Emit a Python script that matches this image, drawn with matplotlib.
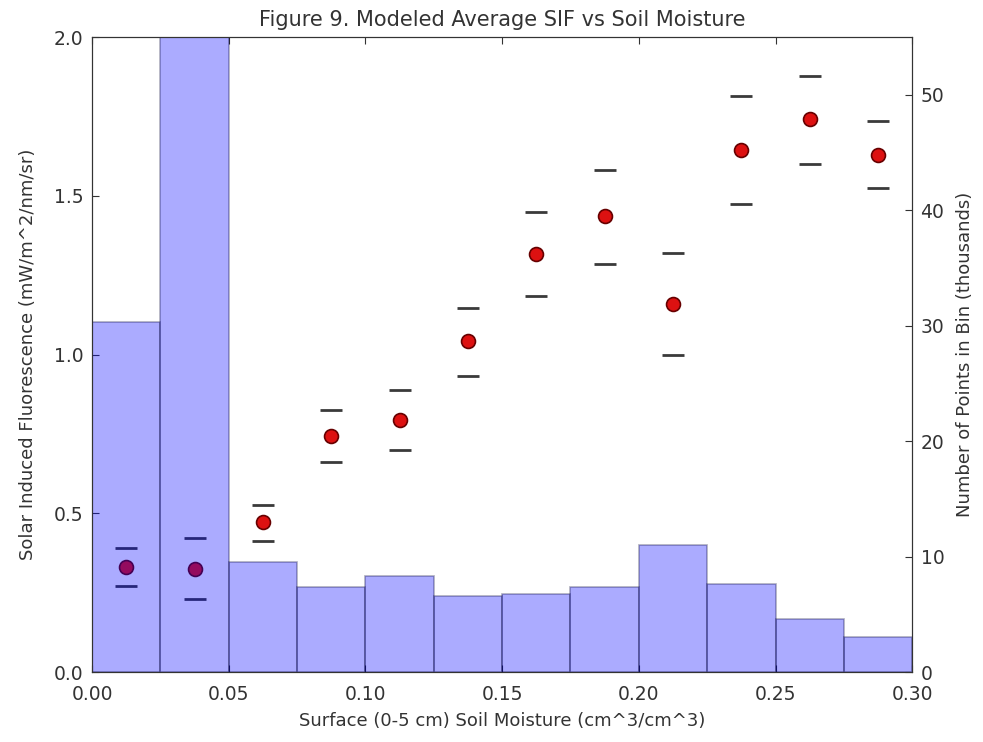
import numpy as np
import matplotlib
matplotlib.use('Agg')
import matplotlib.pyplot as plt

# soil moisture bins (left edges), width 0.025
bin_left = [0.000, 0.025, 0.050, 0.075, 0.100, 0.125, 0.150, 0.175, 0.200, 0.225, 0.250, 0.275]
bin_width = 0.025
# number of points per bin (thousands)
counts = [30.3, 62.0, 9.5, 7.4, 8.3, 6.6, 6.8, 7.4, 11.0, 7.6, 4.6, 3.0]

# mean SIF and upper/lower bounds
sif_mean = [0.331, 0.326, 0.472, 0.743, 0.794, 1.043, 1.317, 1.436, 1.159, 1.644, 1.742, 1.628]
sif_upper = [0.390, 0.422, 0.526, 0.825, 0.888, 1.146, 1.449, 1.581, 1.320, 1.814, 1.877, 1.735]
sif_lower = [0.271, 0.230, 0.413, 0.661, 0.699, 0.932, 1.184, 1.285, 0.998, 1.474, 1.600, 1.524]

bin_center = np.array(bin_left) + bin_width / 2

plt.rcParams['font.size'] = 13.5
plt.rcParams['xtick.direction'] = 'in'
plt.rcParams['ytick.direction'] = 'in'
plt.rcParams['xtick.top'] = True
plt.rcParams['xtick.major.size'] = 5
plt.rcParams['ytick.major.size'] = 5
plt.rcParams['xtick.major.pad'] = 9
plt.rcParams['ytick.major.pad'] = 6
plt.rcParams['text.color'] = '#333333'
plt.rcParams['axes.labelcolor'] = '#333333'
plt.rcParams['xtick.color'] = '#333333'
plt.rcParams['ytick.color'] = '#333333'
plt.rcParams['axes.edgecolor'] = '#333333'

fig = plt.figure(figsize=(9.83, 7.42), dpi=100)
ax1 = fig.add_axes([0.0936, 0.0943, 0.8344, 0.8557])

ax1.plot(bin_center, sif_mean, 'o', color='#dd1111', markeredgecolor='#660000',
         markersize=10, markeredgewidth=1.2)
ax1.plot(bin_center, sif_upper, '_', color='#3a3a3a', markersize=16, markeredgewidth=2)
ax1.plot(bin_center, sif_lower, '_', color='#3a3a3a', markersize=16, markeredgewidth=2)
ax1.set_xlim(0, 0.30)
ax1.set_ylim(0, 2.0)
ax1.set_xticks([0.00, 0.05, 0.10, 0.15, 0.20, 0.25, 0.30])
ax1.set_yticks([0.0, 0.5, 1.0, 1.5, 2.0])
ax1.xaxis.set_major_formatter(matplotlib.ticker.FormatStrFormatter('%.2f'))
ax1.yaxis.set_major_formatter(matplotlib.ticker.FormatStrFormatter('%.1f'))
ax1.set_xlabel('Surface (0-5 cm) Soil Moisture (cm^3/cm^3)', fontsize=13, labelpad=6)
ax1.set_ylabel('Solar Induced Fluorescence (mW/m^2/nm/sr)', fontsize=13, labelpad=12)
ax1.set_title('Figure 9. Modeled Average SIF vs Soil Moisture', fontsize=15, pad=8)

ax2 = ax1.twinx()
ax2.bar(bin_left, counts, width=bin_width, align='edge', color='#0000ff', alpha=0.33,
        edgecolor='#000033', linewidth=1.2)
ax2.set_ylim(0, 55)
ax2.set_yticks([0, 10, 20, 30, 40, 50])
ax2.set_ylabel('Number of Points in Bin (thousands)', fontsize=13, labelpad=8)
ax2.set_xlim(0, 0.30)

fig.savefig('out.png', dpi=100)
